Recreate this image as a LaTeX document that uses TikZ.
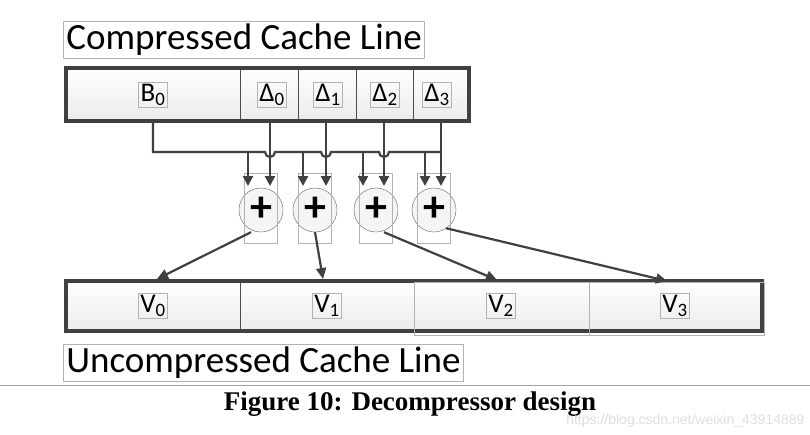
\documentclass[tikz,border=0pt]{standalone}
\usepackage{fontspec}
\setmainfont{Carlito}
\newfontfamily\capfont{Liberation Serif}
\newfontfamily\wmfont{Liberation Sans}
\usetikzlibrary{arrows.meta}
\begin{document}
\begin{tikzpicture}[x=1pt,y=-1pt,
  lbl/.style={draw=gray!60,line width=0.8pt,inner sep=2pt,font=\fontsize{27}{29}\selectfont},
  title/.style={draw=gray!60,line width=0.8pt,inner sep=3pt,font=\fontsize{37}{40}\selectfont,anchor=west},
  line/.style={draw=black!75,line width=3.5pt,top color=white,bottom color=gray!15},
  wire/.style={draw=black!75,line width=2.2pt},
  arr/.style={wire,-{Triangle[length=10pt,width=10pt]}},
  add/.style={circle,draw=black!60,fill=gray!8,minimum size=44pt,inner sep=0pt}]
\useasboundingbox (0,0) rectangle (810,434);
\fill[white] (0,0) rectangle (810,434);
\node[title] (ct) at (63,40) {Compressed Cache Line};
\path[line] (66,68) rectangle (469,121);
\foreach \x in {240,298,356,413} \draw[black!70,line width=0.8pt] (\x,70) -- (\x,119);
\node[lbl] (b0) at (153,95) {B\textsubscript{0}};
\node[lbl] (d0) at (272,95) {\char"0394\textsubscript{0}};
\node[lbl] (d1) at (328,95) {\char"0394\textsubscript{1}};
\node[lbl] (d2) at (385,95) {\char"0394\textsubscript{2}};
\node[lbl] (d3) at (437,95) {\char"0394\textsubscript{3}};
\foreach \n/\x in {0/261,1/315,2/376,3/434}{
  \node[add] (a\n) at (\x,210) {};
  \node[font=\fontsize{44}{44}\selectfont\bfseries] (p\n) at (\x,209) {+};
  \draw[gray!60,line width=0.8pt] (\x-17,173) rectangle (\x+16,243);
}
\coordinate (bs) at (153,122);
\draw[wire] (bs) -- (153,152) -- (265,152) arc[start angle=180,end angle=0,radius=5] -- (321,152)
  arc[start angle=180,end angle=0,radius=5] -- (379,152) arc[start angle=180,end angle=0,radius=5] -- (441,152);
\foreach \x/\n in {248/0,303/1,363/2,425/3}
  \draw[arr] (\x,152) -- (\x,186);
\foreach \x/\n in {270/0,326/1,384/2,441/3}
  \draw[arr] (\x,122) -- (\x,186);
\path[line] (66,281) rectangle (762,331);
\foreach \x in {240,414,589} \draw[black!70,line width=0.8pt] (\x,283) -- (\x,329);
\draw[gray!60,line width=0.8pt] (414,282) rectangle (589,335) (589,282) rectangle (764,335);
\node[lbl] (v0) at (153,306) {V\textsubscript{0}};
\node[lbl] (v1) at (327,306) {V\textsubscript{1}};
\node[lbl] (v2) at (501,306) {V\textsubscript{2}};
\node[lbl] (v3) at (675,306) {V\textsubscript{3}};
\draw[wire,-{Triangle[length=11pt,width=10pt]}] (a0.south) ++(-10,0) -- (157,279);
\draw[wire,-{Triangle[length=11pt,width=10pt]}] (a1.south) ++(0,0) -- (323,279);
\draw[wire,-{Triangle[length=11pt,width=10pt]}] (a2.south) ++(8,0) -- (497,280);
\draw[wire,-{Triangle[length=11pt,width=10pt]}] (a3.south) ++(12,-4) -- (667,281);
\node[title] (ut) at (63,363) {Uncompressed Cache Line};
\draw[gray!70,line width=0.6pt] (0,385) -- (810,385);
\node[font=\capfont\bfseries\fontsize{27}{29}\selectfont] (cap) at (410,404) {Figure 10: Decompressor design};
\node[font=\wmfont\fontsize{14}{15}\selectfont,text=gray!25,anchor=east] (wm) at (808,421) {https://blog.csdn.net/weixin\_43914889};
\end{tikzpicture}
\end{document}
